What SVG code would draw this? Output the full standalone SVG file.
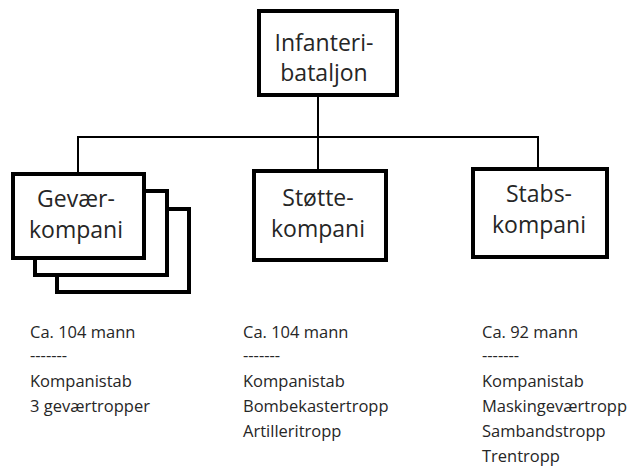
<svg xmlns="http://www.w3.org/2000/svg" width="637" height="467" viewBox="0 0 637 467">
<style>
.box{fill:#fff;stroke:#000;stroke-width:4}
.con{fill:none;stroke:#000;stroke-width:2}
.t{font-family:"Open Sans","Noto Sans",sans-serif;font-size:23px;fill:#262626;text-anchor:middle}
.s{font-family:"Open Sans","Noto Sans",sans-serif;font-size:16.5px;fill:#262626}
</style>
<rect width="637" height="467" fill="#fff"/>
<g id="connectors">
<path class="con" d="M318 97V137M78 137H538M78 136V172M318 136V169M538 136V167"/>
</g>
<g id="bataljon">
<rect class="box" x="259" y="11" width="138" height="84"/>
<text class="t" x="324" y="51">Infanteri-</text>
<text class="t" x="324" y="81">bataljon</text>
</g>
<g id="gevaer">
<rect class="box" x="57" y="209" width="132" height="83"/>
<rect class="box" x="35" y="191" width="132" height="84"/>
<rect class="box" x="13" y="174" width="131" height="84"/>
<text class="t" x="76" y="207">Gevær-</text>
<text class="t" x="76" y="238">kompani</text>
</g>
<g id="stotte">
<rect class="box" x="254" y="171" width="132" height="89"/>
<text class="t" x="318" y="206">Støtte-</text>
<text class="t" x="318" y="237">kompani</text>
</g>
<g id="stabs">
<rect class="box" x="473" y="169" width="134" height="88"/>
<text class="t" x="539" y="202">Stabs-</text>
<text class="t" x="539" y="233">kompani</text>
</g>
<g id="info1">
<text class="s" x="30" y="338">Ca. 104 mann</text>
<text class="s" x="30" y="361">-------</text>
<text class="s" x="30" y="387">Kompanistab</text>
<text class="s" x="30" y="412">3 geværtropper</text>
</g>
<g id="info2">
<text class="s" x="243" y="338">Ca. 104 mann</text>
<text class="s" x="243" y="361">-------</text>
<text class="s" x="243" y="387">Kompanistab</text>
<text class="s" x="243" y="412">Bombekastertropp</text>
<text class="s" x="243" y="437">Artilleritropp</text>
</g>
<g id="info3">
<text class="s" x="482" y="338">Ca. 92 mann</text>
<text class="s" x="482" y="361">-------</text>
<text class="s" x="482" y="387">Kompanistab</text>
<text class="s" x="482" y="412">Maskingeværtropp</text>
<text class="s" x="482" y="437">Sambandstropp</text>
<text class="s" x="482" y="462">Trentropp</text>
</g>
</svg>
